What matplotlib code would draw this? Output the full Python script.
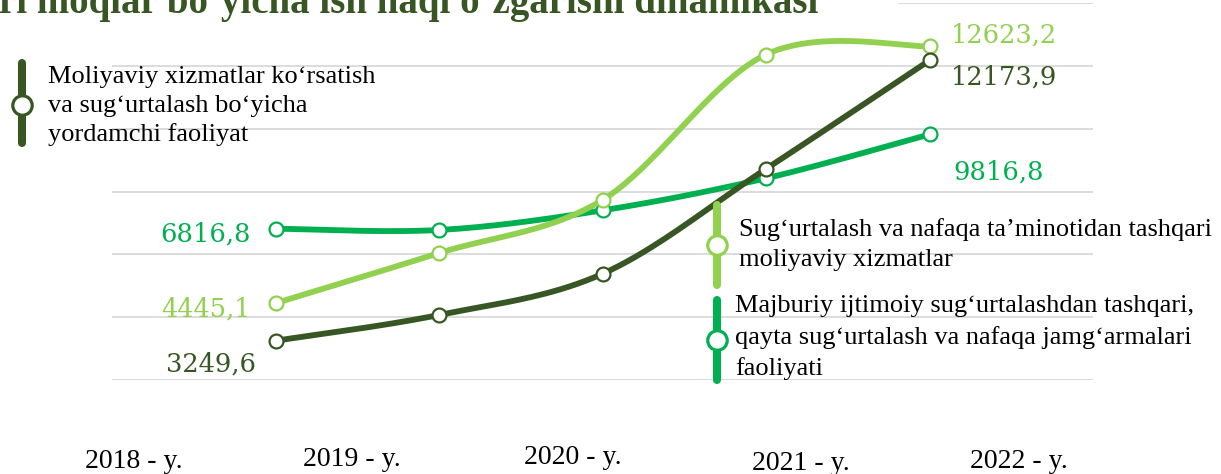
import numpy as np
import matplotlib.pyplot as plt
from matplotlib.patches import Rectangle

# data
years = ["2018 - y.", "2019 - y.", "2020 - y.", "2021 - y.", "2022 - y."]
moliyaviy = [3249.6, 4070, 5380, 8720, 12173.9]
sugurta_tashqari = [4445.1, 6040, 7730, 12360, 12623.2]
majburiy_tashqari = [6816.8, 6775, 7400, 8420, 9816.8]

names = ["Moliyaviy xizmatlar ko‘rsatish\nva sug‘urtalash bo‘yicha\nyordamchi faoliyat",
         "Sug‘urtalash va nafaqa ta’minotidan tashqari\nmoliyaviy xizmatlar",
         "Majburiy ijtimoiy sug‘urtalashdan tashqari,\nqayta sug‘urtalash va nafaqa jamg‘armalari\nfaoliyati"]
colors = ["#375623", "#92D050", "#00B050"]
title = "ri moqlar bo‘yicha ish haqi o‘zgarishi dinamikasi"


def smooth(xs, ys, n=40):
    # catmull-rom, similar to excel's smoothed line
    pts = np.column_stack([xs, ys]).astype(float)
    P = np.vstack([pts[0], pts, pts[-1]])
    t = np.linspace(0, 1, n)[:, None]
    out = []
    for i in range(1, len(P) - 2):
        p0, p1, p2, p3 = P[i - 1], P[i], P[i + 1], P[i + 2]
        c = 0.5 * (2 * p1 + (-p0 + p2) * t + (2 * p0 - 5 * p1 + 4 * p2 - p3) * t ** 2
                   + (-p0 + 3 * p1 - 3 * p2 + p3) * t ** 3)
        out.append(c if i == 1 else c[1:])
    c = np.vstack(out)
    return c[:, 0], c[:, 1]


fig = plt.figure(figsize=(12.21, 4.74), dpi=100)
ax = fig.add_axes([112 / 1221, 1 - 380 / 474, (1093 - 112) / 1221, 377 / 474])
ax.set_xlim(-1, 5)
ax.set_ylim(2000, 14000)
ax.set_yticks(np.arange(2000, 14001, 2000))
ax.set_xticks([])
ax.tick_params(left=False, labelleft=False)
ax.grid(axis="y", color="#d9d9d9", linewidth=1.3)
ax.set_axisbelow(True)
for s in ax.spines.values():
    s.set_visible(False)

x = np.arange(len(years))
series = [moliyaviy, sugurta_tashqari, majburiy_tashqari]
zorders = [5, 4, 3]
for vals, col, z in zip(series, colors, zorders):
    sx, sy = smooth(x, vals)
    ax.plot(sx, sy, color=col, lw=4.2, zorder=z, solid_capstyle="round")
    ax.plot(x, vals, "o", ms=10, mfc="white", mec=col, mew=1.6, zorder=z + 0.5)

# value labels at ends
lab_font = dict(family="DejaVu Serif", fontsize=18.5)
left_offsets = [(-20, -31), (-25, -13), (-25, -13)]
right_offsets = [(21, -24), (21, 4), (24, -45)]
for vals, col, lo, ro in zip(series, colors, left_offsets, right_offsets):
    ax.annotate(f"{vals[0]:.1f}".replace(".", ","), (x[0], vals[0]), xytext=lo,
                textcoords="offset pixels", ha="right", va="baseline", color=col, **lab_font)
    ax.annotate(f"{vals[-1]:.1f}".replace(".", ","), (x[-1], vals[-1]), xytext=ro,
                textcoords="offset pixels", ha="left", va="baseline", color=col, **lab_font)

# overlay in pixel coordinates for title, legend and year labels
ov = fig.add_axes([0, 0, 1, 1], zorder=10)
ov.set_xlim(0, 1221)
ov.set_ylim(474, 0)
ov.axis("off")
ov.patch.set_alpha(0)

ov.add_patch(Rectangle((0, -5), 897, 12, color="white", zorder=1))
ov.text(818, 13, title, ha="right", va="baseline", fontsize=28, fontweight="bold",
        family="Liberation Serif", color="#375623", zorder=2)

# (bar x, bar top, bar bottom, circle y, text x, last line baseline)
leg = [(22, 63, 143, 105, 48, 141), (717, 205, 285, 245, 739, 266), (717, 300, 380, 340, 735, 375)]
spacing = [1.36, 1.45, 1.47]
for (bx, y0, y1, cy, tx, ty), col, name, ls in zip(leg, colors, names, spacing):
    ov.plot([bx, bx], [y0, y1], color=col, lw=5.8, solid_capstyle="round")
    ov.plot(bx, cy, "o", ms=14, mfc="white", mec=col, mew=2.3)
    ov.text(tx, ty, name, ha="left", va="baseline", fontsize=19, family="Liberation Serif",
            color="black", linespacing=ls)

year_pos = [(134, 462), (352, 460), (573, 457), (801, 463), (1019, 462)]
for (px, py), yl in zip(year_pos, years):
    ov.text(px, py, yl, ha="center", va="center", fontsize=20, family="Liberation Serif",
            color="black")

fig.savefig("out.png", dpi=100)
